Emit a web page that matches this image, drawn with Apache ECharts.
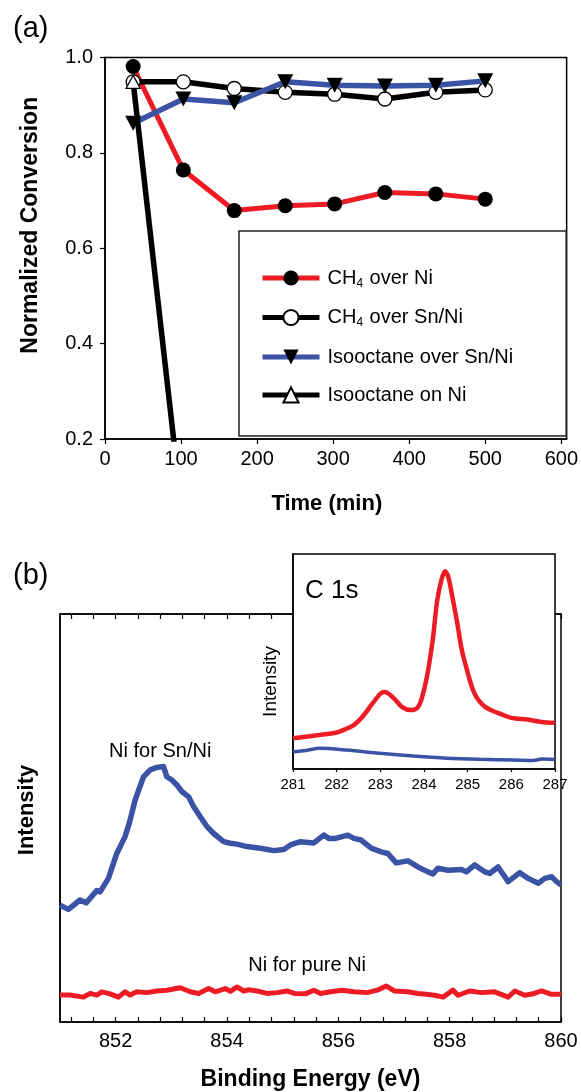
<!DOCTYPE html>
<html>
<head>
<meta charset="utf-8">
<script src="https://cdn.jsdelivr.net/npm/echarts@6/dist/echarts.min.js"></script>
<style>
html,body{margin:0;padding:0;background:#fff;}
#chart{width:581px;height:1092px;}
</style>
</head>
<body>
<div id="chart"></div>
<script>
// ---------- Panel (a) data ----------
const timeMin = [37, 103, 170, 237, 302, 368, 435, 500];
const ch4OverNi = [0.981, 0.764, 0.679, 0.689, 0.693, 0.717, 0.714, 0.703];
const ch4OverSnNi = [0.949, 0.949, 0.935, 0.927, 0.923, 0.913, 0.927, 0.932];
const isoOverSnNi = [0.862, 0.913, 0.905, 0.949, 0.942, 0.940, 0.942, 0.951];
const isoOnNiTime = [37, 103];
const isoOnNi = [0.949, 0.02];
const timeTicks = [0, 100, 200, 300, 400, 500, 600];

// ---------- Panel (b) data: Ni 2p XPS ----------
const niSnE = [851.00,851.15,851.36,851.47,851.66,851.72,851.87,851.95,852.02,852.10,852.17,852.25,852.35,852.50,852.62,852.74,852.86,852.92,853.01,853.10,853.19,853.31,853.40,853.52,853.64,853.76,853.94,854.06,854.18,854.36,854.60,854.84,855.02,855.14,855.32,855.56,855.74,855.83,855.95,856.17,856.28,856.41,856.59,856.77,856.89,857.04,857.25,857.43,857.61,857.70,857.79,857.97,858.21,858.30,858.45,858.63,858.72,858.87,859.05,859.26,859.41,859.59,859.71,859.83,859.92,860.00];
const niSnI = [28.6,27.6,29.9,29.2,32.2,31.9,35.2,38.5,41.3,43.5,45.5,49.0,54.4,60.1,61.8,62.4,62.6,60.1,59.3,58.1,56.5,55.2,52.8,50.3,47.9,46.2,44.2,43.8,43.6,43.0,42.6,42.0,42.3,43.4,44.2,43.9,45.8,45.0,45.0,45.8,45.0,44.6,42.6,41.7,41.3,39.0,39.5,38.0,36.8,36.3,37.7,37.2,37.4,36.8,38.5,36.8,36.4,38.0,34.4,36.6,35.2,34.0,35.2,35.6,34.4,33.6];
const niPureE = [851.00,851.18,851.42,851.54,851.66,851.75,851.90,852.05,852.17,852.26,852.38,852.56,852.74,852.92,853.16,853.34,853.49,853.67,853.79,853.97,854.06,854.18,854.30,854.39,854.54,854.72,854.90,855.08,855.21,855.41,855.56,855.68,855.86,856.07,856.28,856.52,856.70,856.86,857.01,857.25,857.43,857.58,857.73,857.88,858.06,858.15,858.36,858.57,858.81,859.05,859.17,859.35,859.52,859.65,859.83,860.00];
const niPureI = [6.6,6.6,6.1,7.0,6.6,7.4,6.9,6.1,7.4,6.6,7.4,7.2,7.6,7.8,8.4,7.4,7.0,8.2,7.4,8.2,7.5,8.6,7.6,7.9,7.6,7.0,7.2,7.6,7.0,6.9,7.8,7.0,7.4,7.8,7.4,7.2,7.8,8.8,7.6,7.4,7.0,6.8,6.55,6.1,7.8,6.55,7.6,7.2,7.4,6.1,7.6,6.55,7.0,7.6,6.8,6.8];
const niTickValues = [851.2,851.6,852.0,852.4,852.8,853.2,853.6,854.0,854.4,854.8,855.2,855.6,856.0,856.4,856.8,857.2,857.6,858.0,858.4,858.8,859.2,859.6,860.0];
const niLabelValues = [852, 854, 856, 858, 860];

// ---------- Inset: C 1s ----------
const c1sRedE = [281.0,281.6,282.0,282.2,282.4,282.6,282.8,283.0,283.1,283.3,283.5,283.7,283.85,283.95,284.07,284.2,284.3,284.4,284.48,284.56,284.65,284.76,284.86,284.96,285.15,285.38,285.69,286.0,286.38,286.69,287.0];
const c1sRedI = [14.3,15.8,17.0,18.5,20.5,24.5,29.9,35.0,35.8,33.1,28.8,27.4,28.5,33.0,43.2,60.0,78.0,88.0,92.0,89.0,80.0,68.0,56.0,47.8,35.4,29.2,26.1,23.8,23.0,21.9,21.5];
const c1sBlueE = [281.0,281.3,281.61,282.23,283.0,283.76,284.53,285.29,286.06,286.5,286.7,287.0];
const c1sBlueI = [8.0,8.6,9.6,8.8,7.3,6.0,5.0,4.5,4.2,4.0,4.6,4.4];

const zip = (a, b) => a.map((v, i) => [v, b[i]]);
const FF = "'Liberation Sans', Arial, Helvetica, sans-serif";
const FFN = "'Liberation Sans Narrow', 'Liberation Sans', Arial, sans-serif";
const RED = '#ED1C24', BLUE = '#3A53A4', BLACK = '#000';

const chart = echarts.init(document.getElementById('chart'), null, {renderer: 'canvas'});

const option = {
  backgroundColor: '#fff',
  animation: false,
  textStyle: {fontFamily: FF},
  title: [
    {text: '(a)', left: 13, top: 14, padding: 0, textStyle: {fontSize: 29, fontWeight: 'normal', color: BLACK, fontFamily: FF}},
    {text: '(b)', left: 13, top: 561, padding: 0, textStyle: {fontSize: 29, fontWeight: 'normal', color: BLACK, fontFamily: FF}},
    {text: 'C 1s', left: 305, top: 578, padding: 0, z: 20, textStyle: {fontSize: 26, fontWeight: 'normal', color: BLACK, fontFamily: FF}}
  ],
  legend: {
    orient: 'vertical', left: 239, top: 231,
    data: ['CH4 over Ni', 'CH4 over Sn/Ni', 'Isooctane over Sn/Ni', 'Isooctane on Ni'],
    itemWidth: 57, itemHeight: 19, itemGap: 18,
    padding: [37, 53, 31, 21],
    borderColor: '#222', borderWidth: 1.5, backgroundColor: '#fff',
    lineStyle: {width: 5},
    formatter: n => n.replace('CH4', 'CH{sub|4}'),
    textStyle: {
      fontSize: 20, color: BLACK, fontFamily: FF, padding: [0, 0, 0, 3],
      rich: {sub: {fontSize: 12, fontFamily: FF, color: BLACK, verticalAlign: 'top', padding: [11, 1, 0, 0]}}
    }
  },
  grid: [
    {left: 105, top: 57.5, width: 470, height: 381.5, show: true, borderColor: BLACK, borderWidth: 1.5, backgroundColor: 'transparent', z: 0},
    {left: 60, top: 614, width: 501, height: 408, show: true, borderColor: BLACK, borderWidth: 1.5, backgroundColor: 'transparent', z: 0},
    {left: 293, top: 554, width: 262, height: 215, show: true, borderColor: BLACK, borderWidth: 1.5, backgroundColor: '#fff', z: 10}
  ],
  xAxis: [
    {
      gridIndex: 0, type: 'value', min: 0, max: 607,
      name: 'Time (min)', nameLocation: 'middle', nameGap: 54,
      nameTextStyle: {fontSize: 22, fontWeight: 'bold', color: BLACK, fontFamily: FF, padding: [0, 18, 0, 0]},
      axisLine: {show: true, lineStyle: {color: BLACK, width: 1.5}},
      axisTick: {show: true, inside: false, length: 5, customValues: timeTicks, lineStyle: {color: BLACK, width: 1.2}},
      axisLabel: {customValues: timeTicks, fontSize: 20, color: BLACK, margin: 10, fontFamily: FF},
      splitLine: {show: false}
    },
    {
      gridIndex: 1, type: 'value', min: 851, max: 860, position: 'bottom',
      name: 'Binding Energy (eV)', nameLocation: 'middle', nameGap: 46,
      nameTextStyle: {fontSize: 23, fontWeight: 'bold', color: BLACK, fontFamily: FF},
      axisLine: {show: true, lineStyle: {color: BLACK, width: 1.5}},
      axisTick: {show: true, inside: true, length: 5, customValues: niTickValues, lineStyle: {color: BLACK, width: 1.2}},
      axisLabel: {customValues: niLabelValues, fontSize: 20, color: BLACK, margin: 9, fontFamily: FF},
      splitLine: {show: false}
    },
    {
      gridIndex: 1, type: 'value', min: 851, max: 860, position: 'top',
      axisLine: {show: true, lineStyle: {color: BLACK, width: 1.5}},
      axisTick: {show: true, inside: true, length: 5, customValues: niTickValues, lineStyle: {color: BLACK, width: 1.2}},
      axisLabel: {show: false},
      splitLine: {show: false}
    },
    {
      gridIndex: 2, type: 'value', min: 281, max: 287, interval: 1, z: 11,
      axisLine: {show: true, lineStyle: {color: BLACK, width: 1.5}},
      axisTick: {show: true, inside: false, length: 3, lineStyle: {color: BLACK, width: 1.2}},
      axisLabel: {fontSize: 15, color: BLACK, margin: 8, fontFamily: FFN},
      splitLine: {show: false}
    }
  ],
  yAxis: [
    {
      gridIndex: 0, type: 'value', min: 0.2, max: 1.0, interval: 0.2,
      name: 'Normalized Conversion', nameLocation: 'middle', nameGap: 63,
      nameTextStyle: {fontSize: 23, fontWeight: 'bold', color: BLACK, fontFamily: FF, padding: [0, 0, 0, 46]},
      axisLine: {show: true, lineStyle: {color: BLACK, width: 1.5}},
      axisTick: {show: true, inside: false, length: 5, lineStyle: {color: BLACK, width: 1.2}},
      axisLabel: {fontSize: 20, color: BLACK, margin: 12, fontFamily: FF, formatter: v => v.toFixed(1)},
      splitLine: {show: false}
    },
    {
      gridIndex: 1, type: 'value', min: 0, max: 100,
      name: 'Intensity', nameLocation: 'middle', nameGap: 22,
      nameTextStyle: {fontSize: 22, fontWeight: 'bold', color: BLACK, fontFamily: FF, padding: [0, 0, 0, 16]},
      axisLine: {show: true, lineStyle: {color: BLACK, width: 1.5}},
      axisTick: {show: false}, axisLabel: {show: false}, splitLine: {show: false}
    },
    {
      gridIndex: 2, type: 'value', min: 0, max: 100, z: 11,
      name: 'Intensity', nameLocation: 'middle', nameGap: 13,
      nameTextStyle: {fontSize: 19, fontWeight: 'normal', color: BLACK, fontFamily: FFN, padding: [0, 40, 0, 0]},
      axisLine: {show: true, lineStyle: {color: BLACK, width: 1.5}},
      axisTick: {show: false}, axisLabel: {show: false}, splitLine: {show: false}
    }
  ],
  series: [
    {
      name: 'CH4 over Ni', type: 'line', xAxisIndex: 0, yAxisIndex: 0,
      data: zip(timeMin, ch4OverNi), symbol: 'circle', symbolSize: 15,
      lineStyle: {color: RED, width: 5}, itemStyle: {color: BLACK, borderWidth: 0}, z: 3
    },
    {
      name: 'CH4 over Sn/Ni', type: 'line', xAxisIndex: 0, yAxisIndex: 0,
      data: zip(timeMin, ch4OverSnNi), symbol: 'circle', symbolSize: 14,
      lineStyle: {color: BLACK, width: 5.5}, itemStyle: {color: '#fff', borderColor: BLACK, borderWidth: 1.3}, z: 4
    },
    {
      name: 'Isooctane over Sn/Ni', type: 'line', xAxisIndex: 0, yAxisIndex: 0,
      data: zip(timeMin, isoOverSnNi), symbol: 'triangle', symbolRotate: 180, symbolSize: [16, 15],
      lineStyle: {color: BLUE, width: 5.5}, itemStyle: {color: BLACK, borderWidth: 0}, z: 5
    },
    {
      name: 'Isooctane on Ni', type: 'line', xAxisIndex: 0, yAxisIndex: 0,
      data: zip(isoOnNiTime, isoOnNi), symbol: 'triangle', symbolSize: [14, 13], clip: true,
      lineStyle: {color: BLACK, width: 5.5}, itemStyle: {color: '#fff', borderColor: BLACK, borderWidth: 1.3}, z: 6
    },
    {
      name: 'Ni for Sn/Ni', type: 'line', xAxisIndex: 1, yAxisIndex: 1,
      data: zip(niSnE, niSnI), showSymbol: false, symbol: 'none',
      lineStyle: {color: BLUE, width: 5.5, join: 'round'}, z: 2,
      markPoint: {
        symbol: 'circle', symbolSize: 1, itemStyle: {color: 'rgba(0,0,0,0)'},
        label: {show: true, position: 'inside', formatter: '{b}', fontSize: 20, color: BLACK, fontFamily: FF},
        data: [{name: 'Ni for Sn/Ni', coord: [852.80, 66.3]}]
      }
    },
    {
      name: 'Ni for pure Ni', type: 'line', xAxisIndex: 1, yAxisIndex: 1,
      data: zip(niPureE, niPureI), showSymbol: false, symbol: 'none',
      lineStyle: {color: RED, width: 5, join: 'round'}, z: 2,
      markPoint: {
        symbol: 'circle', symbolSize: 1, itemStyle: {color: 'rgba(0,0,0,0)'},
        label: {show: true, position: 'inside', formatter: '{b}', fontSize: 20, color: BLACK, fontFamily: FF},
        data: [{name: 'Ni for pure Ni', coord: [855.44, 13.9]}]
      }
    },
    {
      name: 'C 1s Ni', type: 'line', xAxisIndex: 3, yAxisIndex: 2,
      data: zip(c1sRedE, c1sRedI), showSymbol: false, symbol: 'none', smooth: 0.3,
      lineStyle: {color: RED, width: 4.5}, z: 12
    },
    {
      name: 'C 1s Sn/Ni', type: 'line', xAxisIndex: 3, yAxisIndex: 2,
      data: zip(c1sBlueE, c1sBlueI), showSymbol: false, symbol: 'none', smooth: 0.3,
      lineStyle: {color: BLUE, width: 3.5}, z: 12
    }
  ]
};
chart.setOption(option);
</script>
</body>
</html>
